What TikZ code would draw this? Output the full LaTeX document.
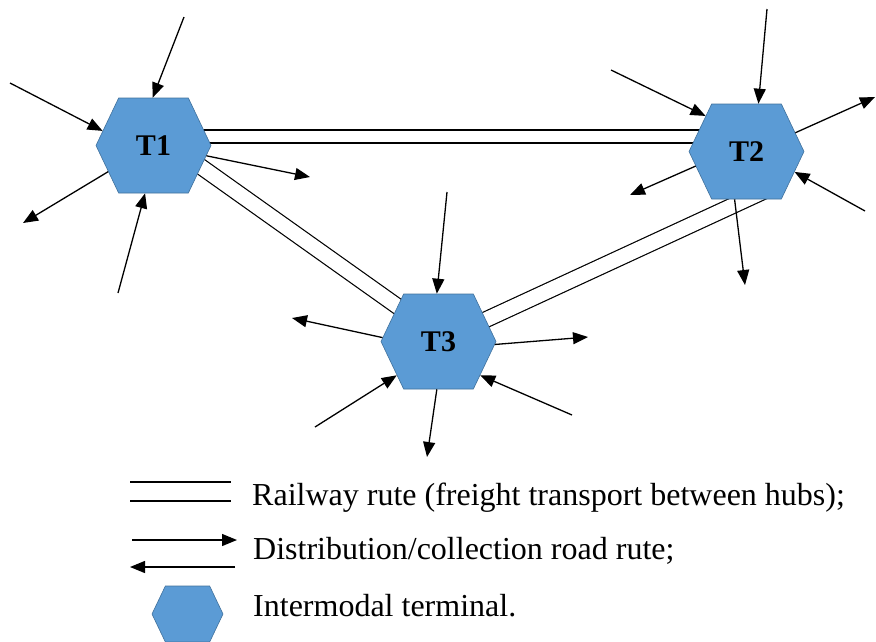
\documentclass[tikz,border=0pt]{standalone}
\usepackage{fontspec}
\setmainfont{Liberation Serif}
\usetikzlibrary{arrows.meta, shapes.symbols, backgrounds, calc}

\definecolor{hubblue}{HTML}{5B9BD5}
\definecolor{hubedge}{HTML}{41719C}

\tikzset{
  terminal/.style={shape=signal, signal to=west and east, signal pointer angle=129,
    minimum width=115pt, minimum height=95pt, inner sep=0pt,
    fill=hubblue, draw=hubedge, line width=0.6pt,
    font=\fontsize{30}{36}\selectfont\bfseries},
  rail/.style={draw=black, double=white, line width=1.2pt, double distance=14pt},
  road/.style={->, line width=1.3pt},
  legtext/.style={anchor=base west, inner sep=0pt, font=\fontsize{32}{38}\selectfont},
}

\begin{document}
\begin{tikzpicture}[x=1pt, y=-1pt, >={Triangle[length=15pt,width=12pt]}]
  \useasboundingbox (0,0) rectangle (876,641);

  % intermodal terminals
  \node[terminal] (T1) at (153.5,145.5) {T1};
  \node[terminal] (T2) at (746.5,151.5) {T2};
  \node[terminal] (T3) at (438.5,341.5) {T3};

  % railway between hubs
  \begin{scope}[on background layer]
    \draw[rail, double distance=11.8pt] ([yshift=9pt]T1.center) -- ([yshift=15pt]T2.center);
    \draw[rail, double distance=14.5pt] ([yshift=12.5pt]T1.center) -- ([yshift=6pt]T3.center);
    \draw[rail, double distance=14.5pt] (T3.center) -- ($(T3.center)!1.09!(T2.south)$);
  \end{scope}

  % road ends
  \coordinate (a1) at (184,17);
  \coordinate (a2) at (10,83);
  \coordinate (a3) at (310,177);
  \coordinate (a4) at (23,223);
  \coordinate (a5) at (118,293);
  \coordinate (b1) at (767,9);
  \coordinate (b2) at (611,70);
  \coordinate (b3) at (875,97);
  \coordinate (b4) at (630,195);
  \coordinate (b5) at (865,211);
  \coordinate (b6) at (745,285);
  \coordinate (c1) at (447,192);
  \coordinate (c2) at (292,318);
  \coordinate (c3) at (588,337);
  \coordinate (c4) at (315,427);
  \coordinate (c5) at (572,415);
  \coordinate (c6) at (427,457);

  % distribution / collection roads
  \draw[road] (a1) -- (T1.91);
  \draw[road] (a2) -- (T1.164);
  \draw[road] (T1.349) -- (a3);
  \draw[road] (T1.210) -- (a4);
  \draw[road] (a5) -- (T1.260);
  \draw[road] (b1) -- (T2.76);
  \draw[road] (b2) -- (T2.139);
  \draw[road] (T2.21) -- (b3);
  \draw[road] (T2.196) -- (b4);
  \draw[road] (b5) -- (T2.337);
  \draw[road] (T2.256) -- (b6);
  \draw[road] (c1) -- (T3.92);
  \draw[road] (T3.176) -- (c2);
  \draw[road] (T3.357) -- (c3);
  \draw[road] (c4) -- (T3.219);
  \draw[road] (c5) -- (T3.321);
  \draw[road] (T3.268) -- (c6);

  % legend
  \coordinate (k1a) at (130,491.5);
  \coordinate (k1b) at (231,491.5);
  \coordinate (k2a) at (132,540);
  \coordinate (k2b) at (237,540);
  \coordinate (k3a) at (235,567);
  \coordinate (k3b) at (130,567);
  \draw[rail, double distance=17.8pt] (k1a) -- (k1b);
  \draw[road] (k2a) -- (k2b);
  \draw[road] (k3a) -- (k3b);
  \node[terminal, minimum width=71pt, minimum height=56pt] (key) at (187.5,614) {};
  \node[legtext] (l1) at (252,505) {Railway rute (freight transport between hubs);};
  \node[legtext] (l2) at (253,559) {Distribution/collection road rute;};
  \node[legtext] (l3) at (253,616) {Intermodal terminal.};
\end{tikzpicture}
\end{document}
